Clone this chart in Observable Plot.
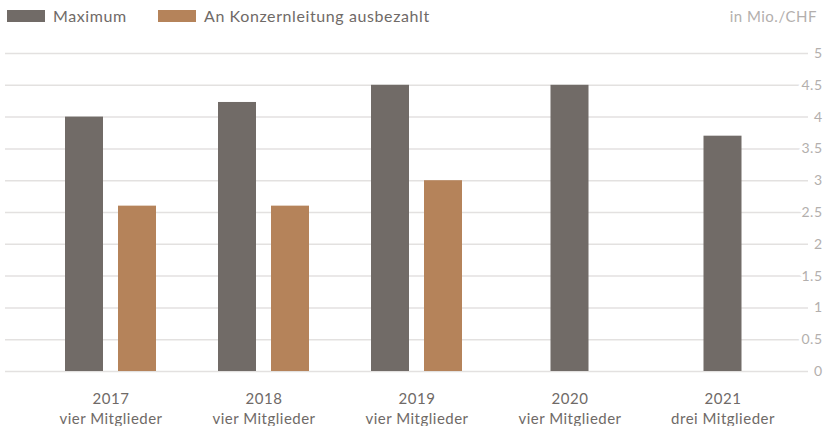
<!DOCTYPE html>
<html>
<head>
<meta charset="utf-8">
<script src="https://cdn.jsdelivr.net/npm/d3@7"></script>
<script src="https://cdn.jsdelivr.net/npm/@observablehq/plot@0.6"></script>
<style>
  html, body { margin: 0; padding: 0; background: #fff; }
  #wrap { position: relative; width: 823px; height: 426px; font-family: Lato, "Open Sans", sans-serif; }
  .legend { position: absolute; top: 0; left: 0; width: 823px; height: 34px; font-size: 16px; letter-spacing: 0.6px; color: #6f6a67; }
  .sw { position: absolute; top: 10px; width: 38px; height: 12px; }
  .lt { position: absolute; top: 6px; line-height: 20px; white-space: nowrap; }
  .unit { position: absolute; top: 6px; right: 6px; line-height: 20px; color: #b3afad; font-size: 15px; letter-spacing: 0.5px; }
</style>
</head>
<body>
<div id="wrap">
  <div class="legend">
    <div class="sw" style="left:7px;background:#716b67"></div>
    <div class="lt" style="left:53px">Maximum</div>
    <div class="sw" style="left:158px;background:#b5835a"></div>
    <div class="lt" style="left:204px">An Konzernleitung ausbezahlt</div>
    <div class="unit">in Mio./CHF</div>
  </div>
  <div id="chart"></div>
</div>
<script>
const years = ["2017", "2018", "2019", "2020", "2021"];
const members = ["vier Mitglieder", "vier Mitglieder", "vier Mitglieder", "vier Mitglieder", "drei Mitglieder"];
const maximum = [4.0, 4.23, 4.5, 4.5, 3.7];
const paid = [2.6, 2.6, 3.0, null, null];
const yTicks = [0, 0.5, 1, 1.5, 2, 2.5, 3, 3.5, 4, 4.5, 5];

const colorMax = "#716b67";
const colorPaid = "#b5835a";

const rows = years.map((y, i) => ({year: y, members: members[i], max: maximum[i], paid: paid[i]}));
const withPaid = rows.filter(d => d.paid != null);
const withoutPaid = rows.filter(d => d.paid == null);

const inset = 57.5;
const shift = 26.5;

const chart = Plot.plot({
  width: 823,
  height: 426,
  marginTop: 53,
  marginBottom: 55,
  marginLeft: 5,
  marginRight: 15,
  style: {fontFamily: "Lato, 'Open Sans', sans-serif", background: "transparent", overflow: "visible", letterSpacing: "0.5px"},
  x: {type: "band", domain: years, range: [33.5, 798.5], padding: 0, axis: null},
  y: {domain: [0, 5], axis: null},
  marks: [
    Plot.ruleY(yTicks, {stroke: "#e3e1e0", strokeWidth: 1.5}),
    Plot.barY(withPaid, {x: "year", y: "max", fill: colorMax, insetLeft: inset, insetRight: inset, dx: -shift}),
    Plot.barY(withPaid, {x: "year", y: "paid", fill: colorPaid, insetLeft: inset, insetRight: inset, dx: shift}),
    Plot.barY(withoutPaid, {x: "year", y: "max", fill: colorMax, insetLeft: inset, insetRight: inset}),
    Plot.text(yTicks, {y: d => d, text: d => String(d), frameAnchor: "right", dx: 14, textAnchor: "end",
      fill: "#b3afad", stroke: "white", strokeWidth: 6, paintOrder: "stroke", fontSize: 14}),
    Plot.text(rows, {x: "year", text: "year", frameAnchor: "bottom", dy: 32, fontSize: 15, fill: "#6f6a67"}),
    Plot.text(rows, {x: "year", text: "members", frameAnchor: "bottom", dy: 52, fontSize: 15, fill: "#6f6a67"})
  ]
});
document.getElementById("chart").appendChild(chart);
</script>
</body>
</html>
